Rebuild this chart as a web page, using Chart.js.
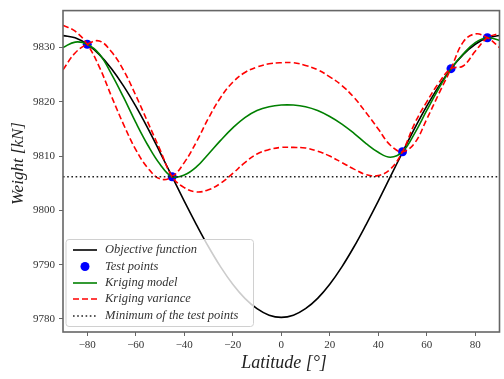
<!DOCTYPE html>
<html>
<head>
<meta charset="utf-8">
<script src="https://cdn.jsdelivr.net/npm/chart.js@4.4.0/dist/chart.umd.min.js"></script>
<style>
html, body { margin: 0; padding: 0; background: #fff; }
#wrap { width: 504px; height: 379px; }
</style>
</head>
<body>
<div id="wrap"><canvas id="weightChart"></canvas></div>
<script>
// latitude grid (deg) shared by the curves
var latitudes = [-90, -85, -80, -75, -70, -65, -60, -55, -50, -45, -40, -35, -30, -25, -20, -15, -10, -5, 0,
                 5, 10, 15, 20, 25, 30, 35, 40, 45, 50, 55, 60, 65, 70, 75, 80, 85, 90];

var objective = [9832.2, 9831.8, 9830.6, 9828.7, 9826.1, 9822.9, 9819.2, 9815.1, 9810.7, 9806.2, 9801.7, 9797.4,
                 9793.3, 9789.6, 9786.4, 9783.8, 9781.9, 9780.7, 9780.3, 9780.7, 9781.9, 9783.8, 9786.4, 9789.6,
                 9793.3, 9797.4, 9801.7, 9806.2, 9810.7, 9815.1, 9819.2, 9822.9, 9826.1, 9828.7, 9830.6, 9831.8, 9832.2];

var krigingModel = [9830.0, 9831.0, 9830.6, 9828.8, 9825.1, 9820.8, 9816.2, 9812.0, 9808.5, 9806.2, 9806.5, 9808.0,
                    9810.4, 9812.9, 9815.2, 9817.1, 9818.4, 9819.1, 9819.4, 9819.4, 9819.1, 9818.4, 9817.3, 9815.9,
                    9814.2, 9812.3, 9810.7, 9809.8, 9810.8, 9814.2, 9818.4, 9822.5, 9826.1, 9828.8, 9830.9, 9831.8, 9831.3];

// the two dashed variance curves cross at every test point
var varianceA = [9834.1, 9833.0, 9830.6, 9826.4, 9821.0, 9815.8, 9811.2, 9807.8, 9805.8, 9806.2, 9808.8, 9812.6,
                 9817.0, 9820.8, 9823.6, 9825.4, 9826.4, 9827.0, 9827.2, 9827.2, 9826.7, 9825.9, 9824.6, 9823.0,
                 9820.8, 9818.0, 9815.0, 9812.0, 9810.8, 9812.4, 9816.8, 9821.5, 9826.1, 9831.0, 9832.5, 9831.8, 9830.0];

var varianceB = [9825.9, 9829.0, 9830.6, 9831.2, 9829.2, 9825.8, 9821.2, 9816.2, 9811.2, 9806.2, 9804.2, 9803.4,
                 9803.8, 9805.0, 9806.8, 9808.8, 9810.4, 9811.2, 9811.6, 9811.6, 9811.5, 9810.9, 9810.0, 9808.8,
                 9807.6, 9806.6, 9806.4, 9807.6, 9810.8, 9816.0, 9820.0, 9823.5, 9826.1, 9826.6, 9829.3, 9831.8, 9832.6];

var testLat = [-80, -45, 50, 70, 85];
var testWeight = [9830.6, 9806.2, 9810.8, 9826.1, 9831.8];

var xTicks = [-80, -60, -40, -20, 0, 20, 40, 60, 80];
var yTicks = [9780, 9790, 9800, 9810, 9820, 9830];

var minTest = Math.min.apply(null, testWeight);

function toPoints(xs, ys) {
    var pts = [];
    for (var i = 0; i < xs.length; i++) {
        pts.push({ x: xs[i], y: ys[i] });
    }
    return pts;
}

var serif = '"Liberation Serif", "DejaVu Serif", serif';

// frame, axis titles and the inset legend
var decorations = {
    id: 'decorations',
    afterDraw: function(chart) {
        var ctx = chart.ctx;
        var a = chart.chartArea;
        ctx.save();
        ctx.strokeStyle = '#666';
        ctx.lineWidth = 1.6;
        ctx.setLineDash([]);
        ctx.strokeRect(a.left, a.top, a.right - a.left, a.bottom - a.top);

        ctx.fillStyle = '#222';
        ctx.textAlign = 'center';
        ctx.textBaseline = 'middle';
        ctx.font = 'italic 18px ' + serif;
        ctx.fillText('Latitude [\u00b0]', 284, 363);
        ctx.font = 'italic 17px ' + serif;
        ctx.save();
        ctx.translate(18.5, 163.5);
        ctx.rotate(-Math.PI / 2);
        ctx.fillText('Weight [kN]', 0, 0);
        ctx.restore();

        // legend
        var bx = 66, by = 239.5, bw = 187.5, bh = 87;
        ctx.beginPath();
        ctx.roundRect(bx, by, bw, bh, 3);
        ctx.fillStyle = 'rgba(255,255,255,0.8)';
        ctx.fill();
        ctx.strokeStyle = '#d0d0d0';
        ctx.lineWidth = 1;
        ctx.stroke();

        var rowY = [250, 266.5, 283, 299, 316];
        var row = 0;
        ctx.font = 'italic 12.5px ' + serif;
        ctx.textAlign = 'left';
        chart.data.datasets.forEach(function(ds) {
            if (!ds.label) return;
            var y = rowY[row++];
            if (ds.showLine === false) {
                ctx.beginPath();
                ctx.arc(85, y, 4.5, 0, Math.PI * 2);
                ctx.fillStyle = ds.pointBackgroundColor;
                ctx.fill();
            } else {
                ctx.beginPath();
                ctx.setLineDash(ds.borderDash || []);
                ctx.strokeStyle = ds.borderColor;
                ctx.lineWidth = ds.borderWidth;
                ctx.moveTo(73, y);
                ctx.lineTo(97, y);
                ctx.stroke();
                ctx.setLineDash([]);
            }
            ctx.fillStyle = '#333';
            ctx.fillText(ds.label, 105, y);
        });
        ctx.restore();
    }
};

var tickFont = { family: serif, size: 11 };

var weightChart = new Chart(document.getElementById('weightChart'), {
    type: 'line',
    data: {
        datasets: [{
            label: 'Objective function',
            data: toPoints(latitudes, objective),
            borderColor: '#000',
            borderWidth: 1.6,
            pointRadius: 0,
            tension: 0.4,
            order: 6
        }, {
            label: 'Test points',
            data: toPoints(testLat, testWeight),
            showLine: false,
            pointRadius: 4.5,
            pointBackgroundColor: '#0000ff',
            pointBorderWidth: 0,
            order: 5
        }, {
            label: 'Kriging model',
            data: toPoints(latitudes, krigingModel),
            borderColor: '#008000',
            borderWidth: 1.6,
            pointRadius: 0,
            tension: 0.4,
            order: 4
        }, {
            label: 'Kriging variance',
            data: toPoints(latitudes, varianceA),
            borderColor: '#ff0000',
            borderWidth: 1.6,
            borderDash: [6, 3],
            pointRadius: 0,
            tension: 0.4,
            order: 3
        }, {
            label: '',
            data: toPoints(latitudes, varianceB),
            borderColor: '#ff0000',
            borderWidth: 1.6,
            borderDash: [6, 3],
            pointRadius: 0,
            tension: 0.4,
            order: 3
        }, {
            label: 'Minimum of the test points',
            data: toPoints([-90, 90], [minTest, minTest]),
            borderColor: '#222',
            borderWidth: 1.6,
            borderDash: [1.6, 2.6],
            pointRadius: 0,
            order: 1
        }]
    },
    options: {
        responsive: true,
        maintainAspectRatio: false,
        animation: false,
        devicePixelRatio: 1,
        layout: { padding: { left: 0, right: 1, top: 10, bottom: 0 } },
        plugins: {
            legend: { display: false },
            tooltip: { enabled: false }
        },
        scales: {
            x: {
                type: 'linear',
                min: -90,
                max: 90,
                afterBuildTicks: function(s) { s.ticks = xTicks.map(function(v) { return { value: v }; }); },
                afterFit: function(s) { s.height = 47; },
                border: { display: false },
                grid: { drawOnChartArea: false, drawTicks: true, tickLength: 4, color: '#666' },
                ticks: {
                    font: tickFont,
                    color: '#333',
                    padding: 3,
                    maxRotation: 0,
                    callback: function(v) { return String(v).replace('-', '\u2212'); }
                }
            },
            y: {
                type: 'linear',
                min: 9777.6,
                max: 9836.8,
                afterBuildTicks: function(s) { s.ticks = yTicks.map(function(v) { return { value: v }; }); },
                afterFit: function(s) { s.width = 63; },
                border: { display: false },
                grid: { drawOnChartArea: false, drawTicks: true, tickLength: 4, color: '#666' },
                ticks: {
                    font: tickFont,
                    color: '#333',
                    padding: 4,
                    callback: function(v) { return String(v); }
                }
            }
        }
    },
    plugins: [decorations]
});
</script>
</body>
</html>
